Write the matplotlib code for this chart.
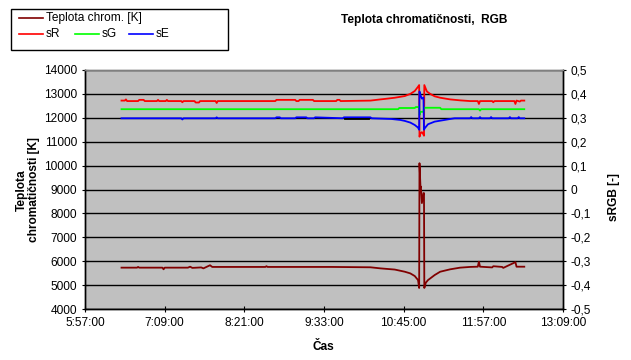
import matplotlib
matplotlib.use("Agg")
import matplotlib.pyplot as plt
from matplotlib.lines import Line2D
from matplotlib.patches import Rectangle
from matplotlib.ticker import FixedLocator, FuncFormatter

plt.rcParams["font.family"] = ["Liberation Sans", "DejaVu Sans"]

# Teplota chromaticnosti [K]
temp_time = ["6:30", "6:44", "6:45", "6:46", "7:07", "7:08", "7:09", "7:30", "7:32", "7:34",
             "7:42", "7:44", "7:50", "7:52", "8:40", "8:41", "8:42", "9:40", "10:15", "10:24",
             "10:37", "10:46", "10:51", "10:55", "10:58", "10:59:00", "10:59:18", "11:00:12",
             "11:00:34", "11:01:28", "11:02:55", "11:03:22", "11:03:40", "11:05", "11:07",
             "11:13", "11:18", "11:27", "11:36", "11:45", "11:52", "11:53", "11:54", "12:05",
             "12:06", "12:14", "12:15", "12:26", "12:27", "12:34"]
temp_val = [5730, 5730, 5760, 5730, 5730, 5660, 5730, 5730, 5770, 5720,
            5740, 5700, 5830, 5760, 5760, 5790, 5760, 5760, 5745, 5700,
            5650, 5560, 5490, 5380, 5210, 4880, 10100, 9100,
            9120, 8430, 8850, 8850, 4880, 5100, 5210,
            5420, 5560, 5660, 5730, 5760, 5770, 5980, 5770, 5740,
            5790, 5760, 5720, 5960, 5770, 5770]

# sR
sr_time = ["6:30", "6:33", "6:34", "6:35", "6:45", "6:46", "6:50", "6:51", "7:02", "7:03",
           "7:04", "7:10", "7:11", "7:12", "7:24", "7:25", "7:26", "7:36", "7:37", "7:40",
           "7:41", "7:55", "7:56", "7:57", "8:49", "8:50", "9:07", "9:08", "9:10", "9:11",
           "9:23", "9:24", "9:44", "9:45", "9:47", "9:48", "10:15", "10:24", "10:28", "10:37",
           "10:46", "10:51", "10:55", "10:58", "10:59:00", "10:59:18", "11:00:12", "11:01:28",
           "11:02:55", "11:03:22", "11:03:40", "11:06", "11:09", "11:13", "11:18", "11:27",
           "11:36", "11:45", "11:52", "11:53", "11:54", "12:05", "12:06", "12:07", "12:25",
           "12:26", "12:27", "12:30", "12:31", "12:34"]
sr_val = [0.372, 0.372, 0.377, 0.370, 0.370, 0.375, 0.375, 0.370, 0.370, 0.375,
          0.370, 0.370, 0.375, 0.370, 0.370, 0.365, 0.370, 0.370, 0.364, 0.364,
          0.370, 0.370, 0.362, 0.370, 0.370, 0.375, 0.375, 0.370, 0.370, 0.375,
          0.375, 0.370, 0.370, 0.375, 0.375, 0.370, 0.372, 0.377, 0.379, 0.384,
          0.391, 0.400, 0.412, 0.430, 0.437, 0.221, 0.235, 0.240,
          0.230, 0.225, 0.437, 0.410, 0.400, 0.390, 0.384, 0.377,
          0.373, 0.370, 0.370, 0.358, 0.370, 0.370, 0.365, 0.370, 0.370,
          0.358, 0.372, 0.368, 0.372, 0.372]

# sG
sg_time = ["6:30", "10:40", "10:41", "10:55", "10:56", "10:59:00", "10:59:18", "11:00:12",
           "11:02:55", "11:03:22", "11:18", "11:19", "11:53", "11:54", "11:55", "12:34"]
sg_val = [0.336, 0.336, 0.341, 0.341, 0.345, 0.345, 0.312, 0.325,
          0.325, 0.342, 0.342, 0.336, 0.336, 0.330, 0.336, 0.336]

# sE
se_time = ["6:30", "7:24", "7:25", "7:26", "7:55", "7:56", "7:57", "8:49", "8:50", "8:53",
           "8:54", "9:07", "9:08", "9:17", "9:18", "9:24", "9:25", "9:50", "9:51", "10:15",
           "10:16", "10:34", "10:42", "10:46", "10:51", "10:55", "10:58", "10:59:00",
           "10:59:18", "11:00:12", "11:01:28", "11:02:55", "11:03:22", "11:04", "11:07",
           "11:13", "11:22", "11:27", "11:31", "11:45", "11:46", "11:47", "11:53", "11:54",
           "11:55", "12:03", "12:04", "12:05", "12:20", "12:21", "12:22", "12:28", "12:29",
           "12:30", "12:34"]
se_val = [0.298, 0.298, 0.293, 0.298, 0.298, 0.302, 0.298, 0.298, 0.302, 0.302,
          0.298, 0.298, 0.302, 0.302, 0.298, 0.298, 0.302, 0.298, 0.302, 0.302,
          0.298, 0.295, 0.291, 0.287, 0.280, 0.270, 0.259, 0.250,
          0.410, 0.395, 0.380, 0.385, 0.250, 0.256, 0.273,
          0.284, 0.291, 0.295, 0.298, 0.298, 0.303, 0.298, 0.298, 0.303,
          0.298, 0.298, 0.303, 0.298, 0.298, 0.303, 0.298, 0.298, 0.303,
          0.298, 0.298]

# dark segment lying on the sE line
dark_time = ["9:52", "10:14"]
dark_val = [0.297, 0.297]

x_tick_labels = ["5:57:00", "7:09:00", "8:21:00", "9:33:00", "10:45:00", "11:57:00", "13:09:00"]
left_ticks = [4000, 5000, 6000, 7000, 8000, 9000, 10000, 11000, 12000, 13000, 14000]
right_ticks = [-0.5, -0.4, -0.3, -0.2, -0.1, 0.0, 0.1, 0.2, 0.3, 0.4, 0.5]


def to_hours(s):
    parts = [int(p) for p in s.split(":")]
    while len(parts) < 3:
        parts.append(0)
    return parts[0] + parts[1] / 60 + parts[2] / 3600


def comma_fmt(v, pos):
    if abs(v) < 1e-9:
        return "0"
    return f"{v:.1f}".replace(".", ",")


W, H = 631, 360


def fx(px):
    return px / W


def fy(py):
    return 1 - py / H


fig = plt.figure(figsize=(W / 100, H / 100), dpi=100)
fig.patch.set_facecolor("white")
ax = fig.add_axes([fx(85), fy(309), fx(563) - fx(85), fy(70) - fy(309)])
ax.set_facecolor("#C0C0C0")

fs = 8.6
ax.plot([to_hours(t) for t in temp_time], temp_val, color="#800000", lw=1.3)
ax.set_ylim(4000, 14000)
ax.set_xlim(to_hours(x_tick_labels[0]), to_hours(x_tick_labels[-1]))
ax.yaxis.set_major_locator(FixedLocator(left_ticks))
ax.set_yticklabels([str(v) for v in left_ticks])
ax.xaxis.set_major_locator(FixedLocator([to_hours(t) for t in x_tick_labels]))
ax.set_xticklabels(x_tick_labels)
ax.yaxis.grid(True, color="black", lw=1)
ax.set_axisbelow(True)
ax.tick_params(direction="inout", length=5, width=0.8, labelsize=fs, pad=3)

ax2 = ax.twinx()
ax2.plot([to_hours(t) for t in sr_time], sr_val, color="#FF0000", lw=1.3)
ax2.plot([to_hours(t) for t in sg_time], sg_val, color="#00FF00", lw=1.3)
ax2.plot([to_hours(t) for t in se_time], se_val, color="#0000FF", lw=1.3)
ax2.plot([to_hours(t) for t in dark_time], dark_val, color="#000000", lw=1.3)
ax2.set_ylim(-0.5, 0.5)
ax2.yaxis.set_major_locator(FixedLocator(right_ticks))
ax2.yaxis.set_major_formatter(FuncFormatter(comma_fmt))
ax2.tick_params(direction="inout", length=5, width=0.8, labelsize=fs, pad=3)

for a in (ax, ax2):
    a.spines["top"].set_color("#808080")
    a.spines["left"].set_color("black")
    a.spines["bottom"].set_color("black")
    a.spines["right"].set_color("black")
    for s in a.spines.values():
        s.set_linewidth(1)

# axis titles
fig.text(fx(28), fy(190), "Teplota\nchromatičnosti [K]", rotation=90, ha="center",
         va="center", fontsize=fs, fontweight="bold", linespacing=1.1)
fig.text(fx(614), fy(197), "sRGB [-]", rotation=90, ha="center", va="center",
         fontsize=fs, fontweight="bold")
fig.text(fx(323), fy(347), "Čas", ha="center", va="center", fontsize=fs, fontweight="bold")
fig.text(fx(424), fy(20), "Teplota chromatičnosti,  RGB", ha="center", va="center",
         fontsize=fs, fontweight="bold")

# legend box drawn by hand to get the Excel layout
fig.add_artist(Rectangle((fx(11), fy(50)), fx(228) - fx(11), fy(9) - fy(50),
                         transform=fig.transFigure, facecolor="white",
                         edgecolor="black", lw=1))
legend_rows = [("Teplota chrom. [K]", "#800000", 19, 18),
               ("sR", "#FF0000", 19, 34),
               ("sG", "#00FF00", 75, 34),
               ("sE", "#0000FF", 129, 34)]
for label, color, x0, y0 in legend_rows:
    fig.add_artist(Line2D([fx(x0), fx(x0 + 24)], [fy(y0), fy(y0)],
                          transform=fig.transFigure, color=color, lw=1.2))
    fig.text(fx(x0 + 27), fy(y0), label, ha="left", va="center", fontsize=fs)

fig.savefig("out.png", dpi=100)
